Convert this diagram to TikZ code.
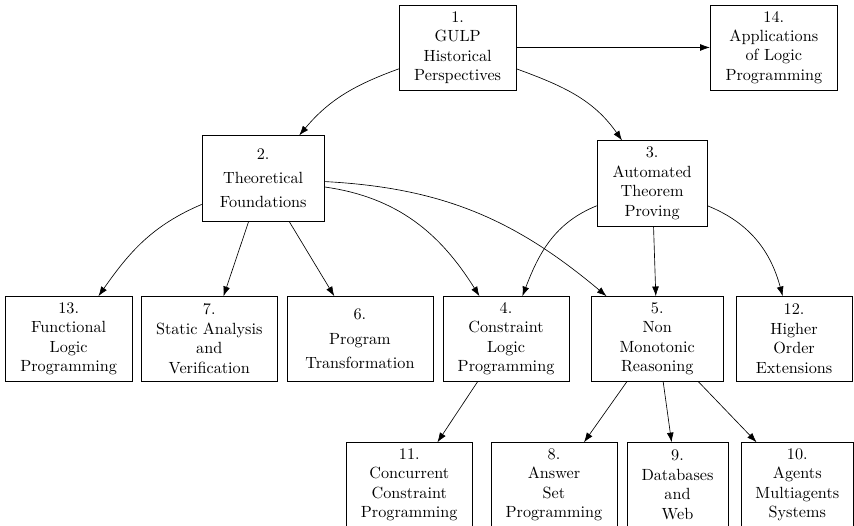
\documentclass[tikz,border=0pt]{standalone}
\usepackage{amsmath}
\usetikzlibrary{arrows, arrows.meta}
\usetikzlibrary{calc}

\begin{document}
\begin{tikzpicture}[
    topic/.style={draw, rectangle, align=center, inner sep=0pt, minimum height=1.83cm},
    dep/.style={-{Latex[length=6pt, width=4.2pt]}}
  ]
    \useasboundingbox (0, 0) rectangle (18.53, 11.41);

    % top row
    \node[topic, minimum width=2.54cm, minimum height=1.85cm] (gulp) at (9.93, 10.38) {1.\\GULP\\Historical\\Perspectives};
    \node[topic, minimum width=2.76cm, minimum height=1.85cm] (apps) at (16.79, 10.38) {14.\\Applications\\of Logic\\Programming};

    % second row
    \node[topic, minimum width=2.65cm, minimum height=1.85cm] (theory) at (5.71, 7.54) {2.\\[3pt]Theoretical\\[3pt]Foundations};
    \node[topic, minimum width=2.39cm, minimum height=1.85cm] (atp) at (14.15, 7.43) {3.\\Automated\\Theorem\\Proving};

    % third row
    \node[topic, minimum width=2.76cm] (flp) at (1.49, 4.06) {13.\\Functional\\Logic\\Programming};
    \node[topic, minimum width=2.95cm] (static) at (4.54, 4.06) {7.\\Static Analysis\\and\\Verification};
    \node[topic, minimum width=3.17cm] (trans) at (7.81, 4.06) {6.\\[3pt]Program\\[3pt]Transformation};
    \node[topic, minimum width=2.73cm] (clp) at (10.98, 4.06) {4.\\Constraint\\Logic\\Programming};
    \node[topic, minimum width=2.86cm] (nmr) at (14.26, 4.06) {5.\\Non\\Monotonic\\Reasoning};
    \node[topic, minimum width=2.52cm] (higher) at (17.23, 4.06) {12.\\Higher\\Order\\Extensions};

    % bottom row
    \node[topic, minimum width=2.73cm] (ccp) at (8.88, 0.89) {11.\\Concurrent\\Constraint\\Programming};
    \node[topic, minimum width=2.73cm] (asp) at (12.02, 0.89) {8.\\Answer\\Set\\Programming};
    \node[topic, minimum width=2.19cm] (db) at (14.70, 0.89) {9.\\Databases\\and\\Web};
    \node[topic, minimum width=2.43cm] (agents) at (17.30, 0.89) {10.\\Agents\\Multiagents\\Systems};

    \draw[dep] (gulp) -- (apps);
    \draw[dep] (gulp) to[out=200, in=50] (theory);
    \draw[dep] (gulp) to[out=-20, in=125] (atp);

    \draw[dep] (theory) to[out=203, in=55] (flp);
    \draw[dep] (theory) -- (static);
    \draw[dep] (theory) -- (trans);
    \draw[dep] (theory) to[out=-8, in=122] (clp);
    \draw[dep] (theory) to[out=-3, in=140] (nmr);

    \draw[dep] (atp) to[out=202, in=69] (clp);
    \draw[dep] (atp) -- (nmr);
    \draw[dep] (atp) to[out=-22, in=105] (higher);

    \draw[dep] (clp) -- (ccp);
    \draw[dep] (nmr) -- (asp);
    \draw[dep] (nmr) -- (db);
    \draw[dep] (nmr) -- (agents);
  \end{tikzpicture}
\end{document}
